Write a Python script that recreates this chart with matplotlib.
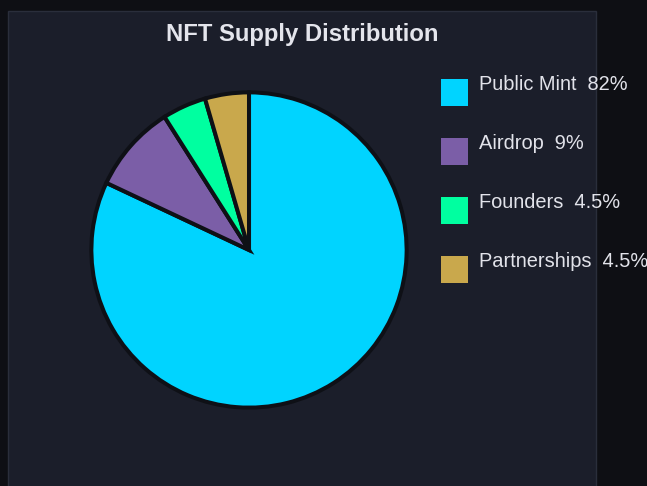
import matplotlib
matplotlib.use("Agg")
import matplotlib.pyplot as plt
from matplotlib.patches import Rectangle

labels = ["Public Mint", "Airdrop", "Founders", "Partnerships"]
values = [82, 9, 4.5, 4.5]
pct_labels = ["82%", "9%", "4.5%", "4.5%"]
colors = ["#00d4ff", "#7b5ea7", "#00ffa0", "#c9a84c"]
title = "NFT Supply Distribution"

plt.rcParams['font.family'] = ['Liberation Sans', 'DejaVu Sans']

W, H = 647, 486
fig = plt.figure(figsize=(W / 100, H / 100), dpi=100)
fig.patch.set_facecolor("#0e0f14")

def fx(x):
    return x / W

def fy(y):
    return 1 - y / H

# panel
fig.patches.append(Rectangle((fx(8), fy(500)), fx(596) - fx(8), fy(11) - fy(500),
                             transform=fig.transFigure, facecolor="#1b1e2a",
                             edgecolor="#2a2e3b", linewidth=1, zorder=-5))

fig.text(fx(302), fy(41), title, ha="center", va="baseline", fontsize=17.2,
         fontweight="bold", color="#e4e5ec")

ax = fig.add_axes([fx(89), fy(410), fx(409) - fx(89), fy(90) - fy(410)])
ax.set_zorder(2)
ax.patch.set_visible(False)
wedges, _ = ax.pie(values, colors=colors, startangle=90, counterclock=False,
                   wedgeprops=dict(edgecolor="#0e1016", linewidth=2.9))
ax.set_xlim(-1.015, 1.015)
ax.set_ylim(-1.015, 1.015)
ax.set_aspect("equal")

row0 = 79
step = 59
for i, (lab, pct, col) in enumerate(zip(labels, pct_labels, colors)):
    top = row0 + i * step
    fig.patches.append(Rectangle((fx(441), fy(top + 27)), fx(27), 27 / H,
                                 transform=fig.transFigure, facecolor=col,
                                 edgecolor="none", zorder=2))
    fig.text(fx(479), fy(top + 11), f"{lab}  {pct}", ha="left", va="baseline",
             fontsize=14.4, color="#e2e3ea")

fig.savefig("out.png", dpi=100, facecolor=fig.get_facecolor())
